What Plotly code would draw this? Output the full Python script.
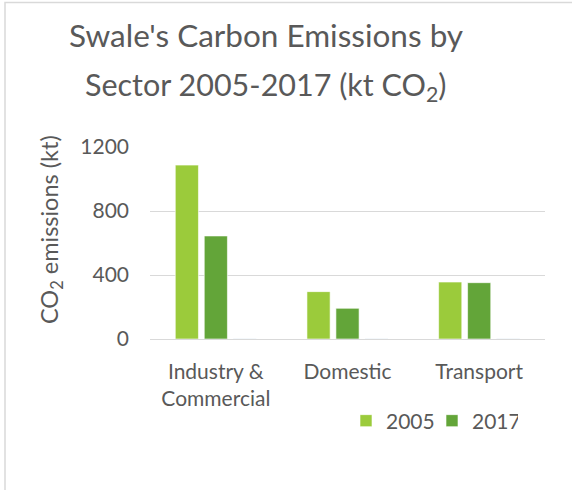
import plotly.graph_objects as go

categories = ["Industry &<br>Commercial", "Domestic", "Transport"]
series_names = ["2005", "2017"]
values_2005 = [1087, 296, 356]
values_2017 = [644, 192, 352]
spacer_values = [0, 0, 0]  # empty third series as in the original (keeps groups offset)
y_ticks = [0, 400, 800, 1200]

title_lines = ["Swale's Carbon Emissions by", "Sector 2005-2017 (kt CO<sub>2</sub>)"]
y_title = "CO<sub>2</sub> emissions (kt)"

color_2005 = "#9BCB3B"
color_2017 = "#63A539"
text_color = "#595959"
grid_color = "#D9D9D9"
FONT = "Lato"

W, H = 572, 490
L, R, T, B = 150, 27, 147, 151
pw, ph = W - L - R, H - T - B

def px_x(px):
    return (px - L) / pw

def px_y(py):
    return (H - B - py) / ph

fig = go.Figure()
fig.add_trace(go.Bar(x=categories, y=values_2005, name=series_names[0],
                     marker=dict(color=color_2005, line=dict(color="rgba(255,255,255,0.6)", width=1))))
fig.add_trace(go.Bar(x=categories, y=values_2017, name=series_names[1],
                     marker=dict(color=color_2017, line=dict(color="rgba(255,255,255,0.6)", width=1))))
fig.add_trace(go.Bar(x=categories, y=spacer_values, name="", showlegend=False,
                     marker=dict(color="rgba(0,0,0,0)"), hoverinfo="skip"))

fig.update_layout(
    width=W, height=H,
    margin=dict(l=L, r=R, t=T, b=B, autoexpand=False),
    paper_bgcolor="white", plot_bgcolor="white",
    barmode="group", bargap=0.34, bargroupgap=0.2,
    font=dict(family=FONT, color=text_color, size=20),
    showlegend=True,
    legend=dict(orientation="h", x=px_x(346), y=px_y(421), xanchor="left", yanchor="middle",
                font=dict(size=21, color=text_color), bgcolor="rgba(0,0,0,0)",
                entrywidth=41, entrywidthmode="pixels",
                itemclick=False, traceorder="normal"),
)

fig.update_xaxes(showgrid=False, showline=False, zeroline=False, ticks="",
                 tickfont=dict(size=21, color=text_color), ticklabelstandoff=18)
fig.update_yaxes(range=[0, 1200], tickvals=y_ticks, showgrid=True, gridcolor=grid_color,
                 gridwidth=1.3, zeroline=True, zerolinecolor=grid_color, zerolinewidth=1.3,
                 showline=False, ticks="", tickfont=dict(size=21, color=text_color),
                 ticklabelstandoff=20)

# y-axis title (positioned like the original, slightly above the plot centre)
fig.add_annotation(text=y_title, xref="paper", yref="paper", x=px_x(51), y=px_y(230),
                   xanchor="center", yanchor="middle", textangle=-90, showarrow=False,
                   font=dict(size=23.5, color=text_color, family=FONT))

# title in two lines
title_centers = [35, 86]
title_sizes = [31.5, 30.5]
for line, cy, fs in zip(title_lines, title_centers, title_sizes):
    fig.add_annotation(text=line, xref="paper", yref="paper", x=px_x(266), y=px_y(cy),
                       xanchor="center", yanchor="middle", showarrow=False,
                       font=dict(size=fs, color=text_color, family=FONT))

# chart frame (left and top edges visible)
fig.add_shape(type="rect", xref="paper", yref="paper",
              x0=px_x(5), x1=px_x(600), y0=px_y(520), y1=px_y(2.5),
              line=dict(color=grid_color, width=1.5), fillcolor="rgba(0,0,0,0)", layer="below")

fig.write_html("out.html")
